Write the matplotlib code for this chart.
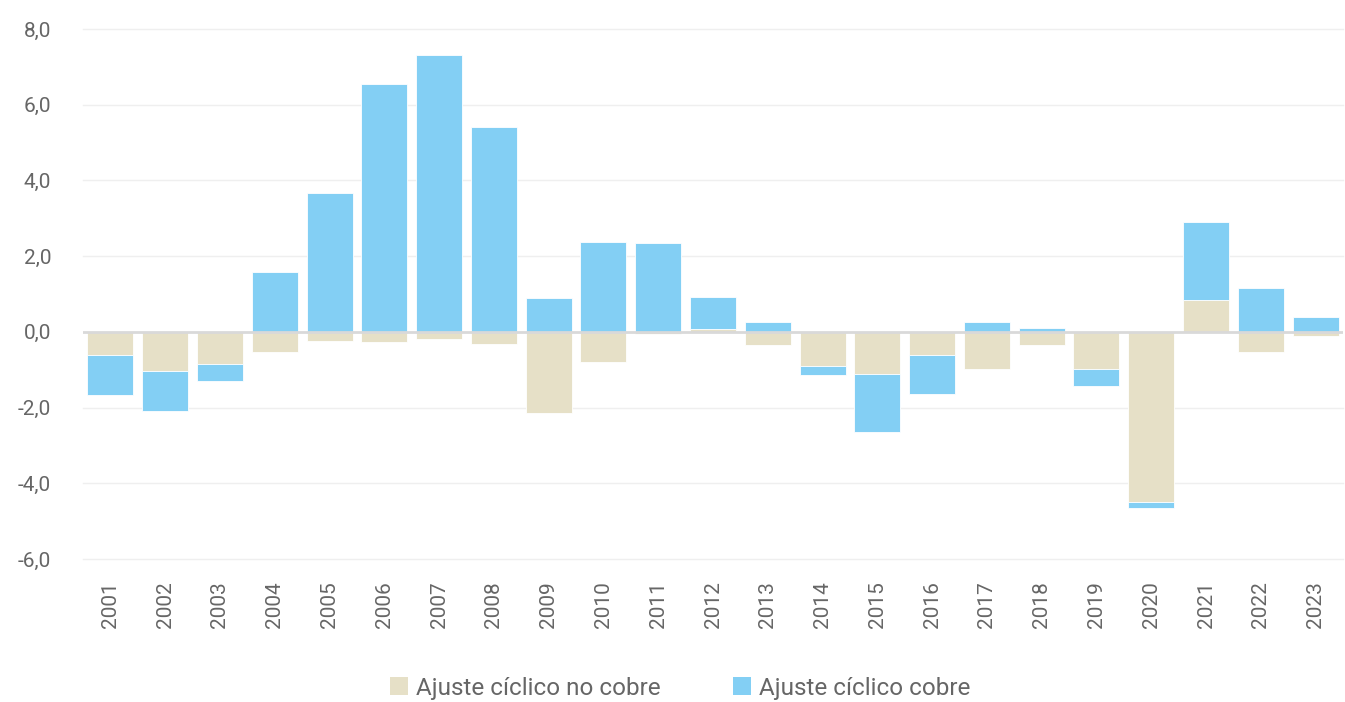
import numpy as np
import matplotlib
matplotlib.use("Agg")
import matplotlib.pyplot as plt
from matplotlib.patches import Patch

# Data (percent of GDP)
years = [str(y) for y in range(2001, 2024)]
no_cobre = [-0.61, -1.03, -0.86, -0.53, -0.23, -0.26, -0.20, -0.32, -2.14, -0.80,
            -0.06, 0.07, -0.36, -0.91, -1.10, -0.60, -0.98, -0.36, -0.97, -4.49,
            0.84, -0.54, -0.10]
cobre = [-1.06, -1.05, -0.43, 1.58, 3.66, 6.55, 7.32, 5.42, 0.89, 2.38,
         2.35, 0.86, 0.26, -0.22, -1.55, -1.03, 0.25, 0.11, -0.45, -0.15,
         2.05, 1.16, 0.39]
y_ticks = [-6, -4, -2, 0, 2, 4, 6, 8]

BEIGE = "#E6E0C7"
BLUE = "#83CFF4"
TEXT = "#666666"

plt.rcParams["font.family"] = ["Roboto", "DejaVu Sans"]

fig = plt.figure(figsize=(13.45, 7.02), dpi=100)
ax = fig.add_axes([83 / 1345, 1 - 559 / 702, 1260 / 1345, 530 / 702])

x = np.arange(len(years))
width = 0.84

# stack positives and negatives separately, non-copper closest to zero
pos_base = np.zeros(len(years))
neg_base = np.zeros(len(years))
for values, color in [(no_cobre, BEIGE), (cobre, BLUE)]:
    v = np.array(values)
    bottom = np.where(v >= 0, pos_base, neg_base)
    ax.bar(x, v, width, bottom=bottom, color=color, edgecolor="white",
           linewidth=0.6, zorder=3)
    pos_base += np.where(v >= 0, v, 0)
    neg_base += np.where(v < 0, v, 0)

ax.set_xlim(-0.5, len(years) - 0.5)
ax.set_ylim(-6, 8)
ax.set_yticks(y_ticks)
ax.set_yticklabels([f"{t:.1f}".replace(".", ",") for t in y_ticks])
ax.set_xticks(x)
ax.set_xticklabels(years, rotation=90)

for t in y_ticks:
    if t != 0:
        ax.axhline(t, color="#EFEFEF", linewidth=1.0, zorder=1, clip_on=False)
ax.axhline(0, color="#D9D9D9", linewidth=2.0, zorder=4)

for s in ax.spines.values():
    s.set_visible(False)
ax.tick_params(axis="both", length=0, colors=TEXT, labelsize=15)
ax.tick_params(axis="y", pad=23)
ax.tick_params(axis="x", pad=16)

handles = [Patch(facecolor=BEIGE, label="Ajuste cíclico no cobre"),
           Patch(facecolor=BLUE, label="Ajuste cíclico cobre")]
fig.legend(handles=handles, loc="center", bbox_to_anchor=(680 / 1345, 1 - 688 / 702),
           ncol=2, frameon=False, fontsize=17.5, labelcolor=TEXT,
           handlelength=0.75, handleheight=0.75, handletextpad=0.3, columnspacing=3.0)

fig.savefig("out.png", dpi=100)
